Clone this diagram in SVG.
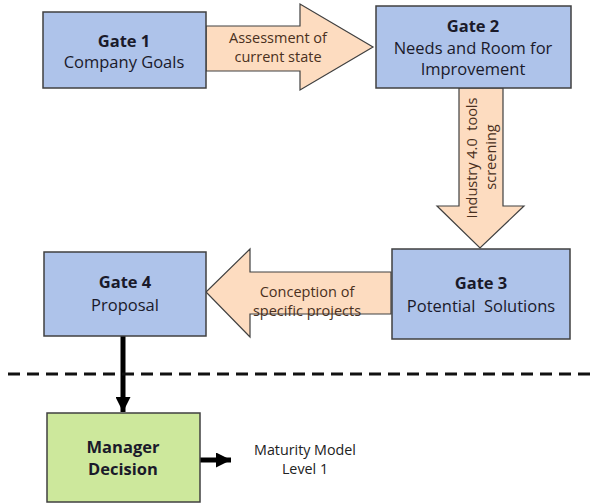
<svg xmlns="http://www.w3.org/2000/svg" width="608" height="504" viewBox="0 0 608 504">
<defs>
<style>
.gate{fill:#aec3ea;stroke:#404040;stroke-width:1.5}
.green{fill:#cde89c;stroke:#404040;stroke-width:1.5}
.flow{fill:#fddcc0;stroke:#404040;stroke-width:1.2}
.t{font-family:"Open Sans","Noto Sans",sans-serif;font-size:16.5px;fill:#1a1a2a;text-anchor:middle}
.b{font-weight:bold}
.al{font-family:"Open Sans","Noto Sans",sans-serif;font-size:14.5px;fill:#4a3020;text-anchor:middle}
.m{font-family:"Open Sans","Noto Sans",sans-serif;font-size:14.3px;fill:#222;text-anchor:middle}
</style>
<marker id="ah" viewBox="0 0 10 10" refX="10" refY="5" markerWidth="3" markerHeight="3" orient="auto" markerUnits="strokeWidth"><path d="M0,0 L10,5 L0,10 z" fill="#000"/></marker>
</defs>
<rect width="608" height="504" fill="#fff"/>
<g id="connectors">
<polygon class="flow" points="206,26 300,26 300,4 373,47 300,90 300,71 206,71"/>
<text class="al" x="278" y="43">Assessment of</text>
<text class="al" x="278" y="62">current state</text>
<polygon class="flow" points="459,88 503,88 503,206 524,206 480,248 437,206 459,206"/>
<text class="al" transform="translate(477,158) rotate(-90)">Industry 4.0&#160; tools</text>
<text class="al" transform="translate(496,157) rotate(-90)">screening</text>
<polygon class="flow" points="391,272 250,272 250,249 206,292 250,337 250,314 391,314"/>
<text class="al" x="307" y="297">Conception of</text>
<text class="al" x="307" y="315.5">specific projects</text>
<line x1="123" y1="336" x2="123" y2="412" stroke="#000" stroke-width="5" marker-end="url(#ah)"/>
<line x1="200" y1="460" x2="231" y2="460" stroke="#000" stroke-width="5" marker-end="url(#ah)"/>
<line x1="8" y1="374" x2="590" y2="374" stroke="#111" stroke-width="3" stroke-dasharray="12 7"/>
</g>
<g id="gate1">
<rect class="gate" x="43" y="12" width="163" height="76"/>
<text class="t b" x="124" y="47">Gate 1</text>
<text class="t" x="124" y="68">Company Goals</text>
</g>
<g id="gate2">
<rect class="gate" x="376" y="6" width="195" height="82"/>
<text class="t b" x="473" y="32">Gate 2</text>
<text class="t" x="473" y="54">Needs and Room for</text>
<text class="t" x="473" y="75">Improvement</text>
</g>
<g id="gate3">
<rect class="gate" x="392" y="249" width="178" height="90"/>
<text class="t b" x="481" y="289">Gate 3</text>
<text class="t" x="481" y="312">Potential&#160; Solutions</text>
</g>
<g id="gate4">
<rect class="gate" x="44" y="252" width="162" height="84"/>
<text class="t b" x="125" y="288">Gate 4</text>
<text class="t" x="125" y="311">Proposal</text>
</g>
<g id="manager">
<rect class="green" x="47" y="413" width="153" height="89"/>
<text class="t b" x="123" y="453">Manager</text>
<text class="t b" x="123" y="475">Decision</text>
</g>
<g id="maturity">
<text class="m" x="305" y="455">Maturity Model</text>
<text class="m" x="305" y="474">Level 1</text>
</g>
</svg>
